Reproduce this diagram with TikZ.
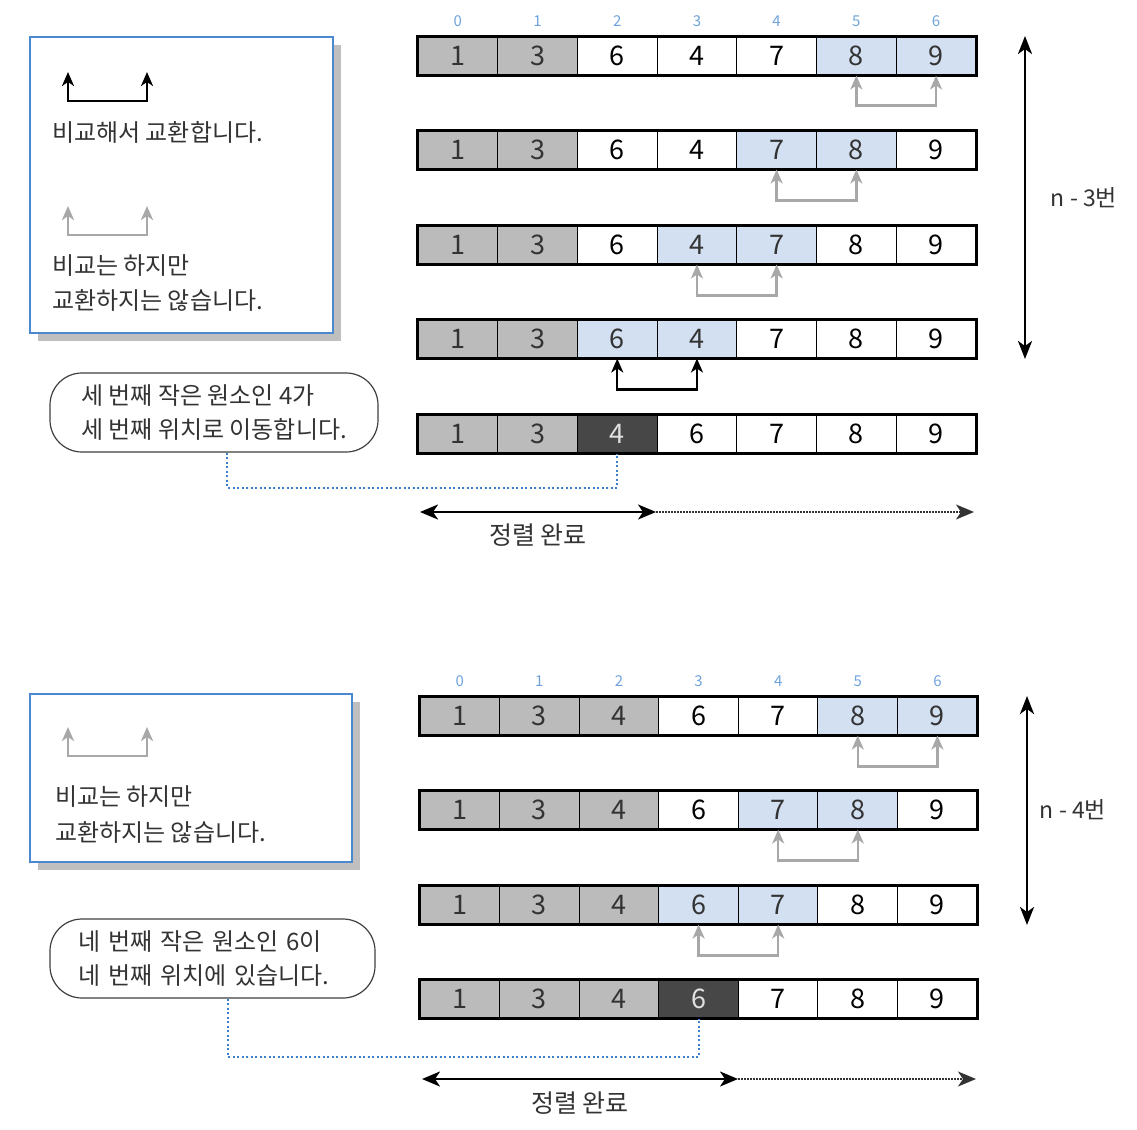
\documentclass[tikz,border=0pt]{standalone}
\usepackage{fontspec}
\setmainfont{Noto Sans CJK KR}
\usetikzlibrary{arrows.meta,shadows}
\definecolor{cgray}{HTML}{BBBBBB}
\definecolor{cblue}{HTML}{D3E0F1}
\definecolor{cdark}{HTML}{474747}
\definecolor{idxblue}{HTML}{6FA3DB}
\definecolor{boxblue}{HTML}{4A89CF}
\definecolor{arrgray}{HTML}{A8A8A8}
\definecolor{dotblue}{HTML}{3C7FCF}
\definecolor{txt}{HTML}{333333}
\newcommand\drawrow[5]{%
  \foreach \v/\s [count=\i from 0] in {#5} {
    \node[cell,\s] (#1c\i) at ({#2+#3*\i+#3/2},#4) {\v};
  }
  \draw[line width=2.6pt] (#1c0.north west) rectangle (#1c6.south east);
}
\begin{document}
\begin{tikzpicture}[x=1pt,y=-1pt,
  cell/.style={draw=black, line width=1pt, minimum width=79.7pt, minimum height=38pt, inner sep=0pt,
    font=\fontsize{27}{27}\selectfont},
  cg/.style={fill=cgray, text=txt},
  cw/.style={fill=white, text=black},
  cb/.style={fill=cblue, text=txt},
  cd/.style={fill=cdark, text=black!12},
  idxlab/.style={text=idxblue, font=\fontsize{15}{15}\selectfont, inner sep=0pt},
  ktext/.style={text=txt, font=\fontsize{24}{24}\selectfont, inner sep=0pt, anchor=west},
  swapk/.style={draw=black, line width=2.4pt, {Stealth[length=14pt,width=12pt,inset=4pt]}-{Stealth[length=14pt,width=12pt,inset=4pt]}},
  swapg/.style={draw=arrgray, line width=2.4pt, {Stealth[length=14pt,width=12pt,inset=4pt]}-{Stealth[length=14pt,width=12pt,inset=4pt]}},
  bigarrow/.style={draw=black, line width=2.6pt, {Stealth[length=18pt,width=14pt,inset=5pt]}-{Stealth[length=18pt,width=14pt,inset=5pt]}},
  legendbox/.style={draw=boxblue, line width=1.8pt, fill=white, inner sep=0pt,
    drop shadow={shadow xshift=8pt, shadow yshift=-8pt, fill=black!25, opacity=1}},
  callout/.style={draw=black!75, line width=1.2pt, fill=white, rounded corners=32pt, align=left,
    text=txt, font=\fontsize{24}{34}\selectfont},
  dotline/.style={draw=dotblue, line width=2pt, dash pattern=on 2pt off 2.5pt},
  sortedline/.style={draw=black, line width=2.4pt, {Stealth[length=18pt,width=15pt,inset=5pt]}-{Stealth[length=18pt,width=15pt,inset=5pt]}},
  sorteddot/.style={draw=black!80, line width=1.4pt, dash pattern=on 1.5pt off 1.5pt, -{Stealth[length=18pt,width=15pt,inset=5pt]}},
]
\useasboundingbox (0,0) rectangle (1137,1129);

% ================= TOP HALF =================
\foreach \i in {0,...,6} {\node[idxlab] (ti\i) at ({418+79.7*\i+39.85},21) {\i};}
\drawrow{ra}{418}{79.7}{56}{1/cg,3/cg,6/cw,4/cw,7/cw,8/cb,9/cb}
\drawrow{rb}{418}{79.7}{150}{1/cg,3/cg,6/cw,4/cw,7/cb,8/cb,9/cw}
\drawrow{rc}{418}{79.7}{245}{1/cg,3/cg,6/cw,4/cb,7/cb,8/cw,9/cw}
\drawrow{rd}{418}{79.7}{339}{1/cg,3/cg,6/cb,4/cb,7/cw,8/cw,9/cw}
\drawrow{re}{418}{79.7}{434}{1/cg,3/cg,4/cd,6/cw,7/cw,8/cw,9/cw}

\draw[swapg] (rac5.south) -- ++(0,30) -| (rac6.south);
\draw[swapg] (rbc4.south) -- ++(0,31) -| (rbc5.south);
\draw[swapg] (rcc3.south) -- ++(0,31) -| (rcc4.south);
\draw[swapk] (rdc2.south) -- ++(0,31) -| (rdc3.south);

\coordinate (va1) at (1025,36);
\coordinate (va2) at (1025,359);
\draw[bigarrow] (va1) -- (va2);
\node[text=txt, font=\fontsize{23}{23}\selectfont, inner sep=0pt] (na) at (1084,198) {n - 3번};

% legend 1
\node[legendbox, minimum width=303pt, minimum height=296pt] (leg1) at (181.5,185) {};
\coordinate (l1a) at (68,72); \coordinate (l1b) at (147,72);
\draw[swapk] (l1a) -- ++(0,29) -| (l1b);
\node[ktext] (l1t) at (52,132) {비교해서 교환합니다.};
\coordinate (l2a) at (68,206); \coordinate (l2b) at (147,206);
\draw[swapg] (l2a) -- ++(0,29) -| (l2b);
\node[ktext] (l2t) at (52,266) {비교는 하지만};
\node[ktext] (l3t) at (52,300) {교환하지는 않습니다.};

% callout 1
\node[callout, minimum width=328pt, minimum height=79pt] (co1) at (214,412.5)
  {세 번째 작은 원소인 4가\\세 번째 위치로 이동합니다.};
\draw[dotline] ([xshift=13pt]co1.south) -- ++(0,35) -| (rec2.south);

% sorted
\coordinate (sa1) at (420,512); \coordinate (sa2) at (656,512); \coordinate (sa3) at (974,512);
\draw[sortedline] (sa1) -- (sa2);
\draw[sorteddot] (sa2) -- (sa3);
\node[text=txt, font=\fontsize{25}{25}\selectfont, inner sep=0pt] (sla) at (538,535) {정렬 완료};

% ================= BOTTOM HALF =================
\foreach \i in {0,...,6} {\node[idxlab] (bi\i) at ({420+79.6*\i+39.8},681) {\i};}
\drawrow{rf}{420}{79.6}{716}{1/cg,3/cg,4/cg,6/cw,7/cw,8/cb,9/cb}
\drawrow{rg}{420}{79.6}{810}{1/cg,3/cg,4/cg,6/cw,7/cb,8/cb,9/cw}
\drawrow{rh}{420}{79.6}{905}{1/cg,3/cg,4/cg,6/cb,7/cb,8/cw,9/cw}
\drawrow{ri}{420}{79.6}{999}{1/cg,3/cg,4/cg,6/cd,7/cw,8/cw,9/cw}

\draw[swapg] (rfc5.south) -- ++(0,31) -| (rfc6.south);
\draw[swapg] (rgc4.south) -- ++(0,31) -| (rgc5.south);
\draw[swapg] (rhc3.south) -- ++(0,31) -| (rhc4.south);

\coordinate (vb1) at (1027,696);
\coordinate (vb2) at (1027,925);
\draw[bigarrow] (vb1) -- (vb2);
\node[text=txt, font=\fontsize{23}{23}\selectfont, inner sep=0pt] (nb) at (1073,810) {n - 4번};

% legend 2
\node[legendbox, minimum width=322pt, minimum height=168pt] (leg2) at (191,778) {};
\coordinate (l4a) at (68,727); \coordinate (l4b) at (147,727);
\draw[swapg] (l4a) -- ++(0,29) -| (l4b);
\node[ktext] (l5t) at (55,797) {비교는 하지만};
\node[ktext] (l6t) at (55,832) {교환하지는 않습니다.};

% callout 2
\node[callout, text width=269pt, minimum width=325pt, minimum height=79pt] (co2) at (212.5,958.5)
  {네 번째 작은 원소인 6이\\네 번째 위치에 있습니다.};
\draw[dotline] ([xshift=15pt]co2.south) -- ++(0,58) -| (ric3.south);

% sorted
\coordinate (sb1) at (422,1079); \coordinate (sb2) at (738,1079); \coordinate (sb3) at (976,1079);
\draw[sortedline] (sb1) -- (sb2);
\draw[sorteddot] (sb2) -- (sb3);
\node[text=txt, font=\fontsize{25}{25}\selectfont, inner sep=0pt] (slb) at (580,1103) {정렬 완료};
\end{tikzpicture}
\end{document}
